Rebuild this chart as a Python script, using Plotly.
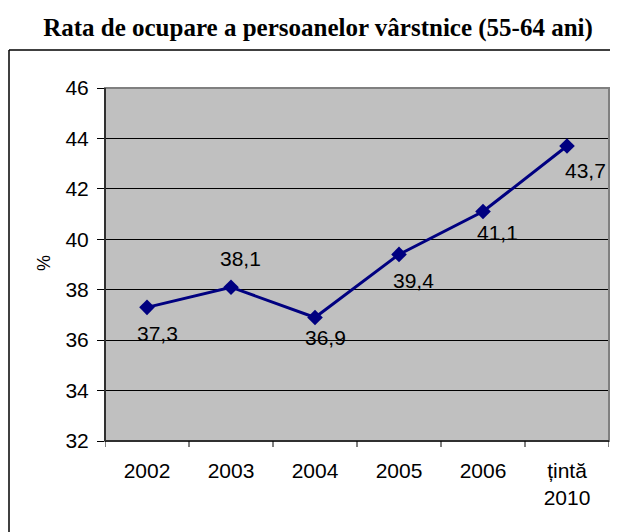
import plotly.graph_objects as go

categories = ["2002", "2003", "2004", "2005", "2006", "țintă<br>2010"]
values = [37.3, 38.1, 36.9, 39.4, 41.1, 43.7]
value_labels = ["37,3", "38,1", "36,9", "39,4", "41,1", "43,7"]
label_offsets = [(10, -26), (9, 29), (10, -20), (14, -26), (14, -21), (18, -25)]
y_ticks = [32, 34, 36, 38, 40, 42, 44, 46]

# page body has an 8px margin, so the figure is drawn 8px in from the window corner
OFF = 8
W, H = 618 - OFF, 532 - OFF
L, R, T, B = 105 - OFF, 618 - 609, 88 - OFF, 532 - 441
pw, ph = W - L - R, H - T - B

def px_x(x):
    return (x - OFF - L) / pw

def px_y(y):
    return 1 - (y - OFF - T) / ph

FONT = "Liberation Sans, Arial"

fig = go.Figure()
fig.add_trace(go.Scatter(
    x=list(range(len(categories))), y=values, mode="lines+markers",
    line=dict(color="#000080", width=3),
    marker=dict(symbol="diamond", size=12, color="#000080"),
    cliponaxis=False, hoverinfo="skip"))

for i, (v, lab) in enumerate(zip(values, value_labels)):
    dx, dy = label_offsets[i]
    fig.add_annotation(x=i, y=v, text=lab, showarrow=False, xshift=dx, yshift=dy,
                       font=dict(family=FONT, size=21, color="black"))

# y axis title
fig.add_annotation(x=px_x(44), y=px_y(263), xref="paper", yref="paper", text="%",
                   xanchor="center", yanchor="middle",
                   textangle=-90, showarrow=False, font=dict(family=FONT, size=18, color="black"))

# outer chart box (top and left edges visible)
fig.add_shape(type="line", xref="paper", yref="paper",
              x0=px_x(9), x1=px_x(640), y0=px_y(50), y1=px_y(50),
              line=dict(color="black", width=1.5), layer="below")
fig.add_shape(type="line", xref="paper", yref="paper",
              x0=px_x(9), x1=px_x(9), y0=px_y(50), y1=px_y(560),
              line=dict(color="black", width=1.5), layer="below")

fig.update_layout(
    width=W, height=H,
    margin=dict(l=L, r=R, t=T, b=B),
    paper_bgcolor="white", plot_bgcolor="#C0C0C0",
    showlegend=False,
    title=dict(text="<b>Rata de ocupare a persoanelor vârstnice (55-64 ani)</b>",
               x=px_x(318), xanchor="center", y=1 - (27 - OFF) / H, yanchor="middle",
               xref="paper",
               font=dict(family="Liberation Serif, Times New Roman", size=25, color="black")),
    xaxis=dict(range=[-0.5, 5.5], tickmode="array", tickvals=list(range(6)), ticktext=categories,
               showgrid=False, zeroline=False, showline=False,
               ticks="", ticklabelstandoff=15,
               tickfont=dict(family=FONT, size=21, color="black"),
               fixedrange=True),
    yaxis=dict(range=[32, 46], tickmode="array", tickvals=y_ticks, ticktext=[str(t) for t in y_ticks],
               showgrid=True, gridcolor="black", gridwidth=1, zeroline=False,
               showline=False, ticks="outside", ticklen=7, ticklabelstandoff=4,
               tickcolor="black", tickfont=dict(family=FONT, size=21, color="black"),
               fixedrange=True),
)

# plot area border (gray) with darker left/bottom axis lines
fig.add_shape(type="rect", xref="paper", yref="paper", x0=0, x1=1, y0=0, y1=1,
              line=dict(color="#808080", width=2), fillcolor="rgba(0,0,0,0)")
fig.add_shape(type="line", xref="paper", yref="paper", x0=0, x1=1, y0=0, y1=0,
              line=dict(color="#303030", width=2))
fig.add_shape(type="line", xref="paper", yref="paper", x0=0, x1=0, y0=0, y1=1,
              line=dict(color="#303030", width=2))
# category boundary ticks on x
for b in [i - 0.5 for i in range(7)]:
    fig.add_shape(type="line", xref="x", yref="paper", x0=b, x1=b, y0=0, y1=-6 / ph,
                  line=dict(color="black", width=1))

fig.write_html("out.html")
